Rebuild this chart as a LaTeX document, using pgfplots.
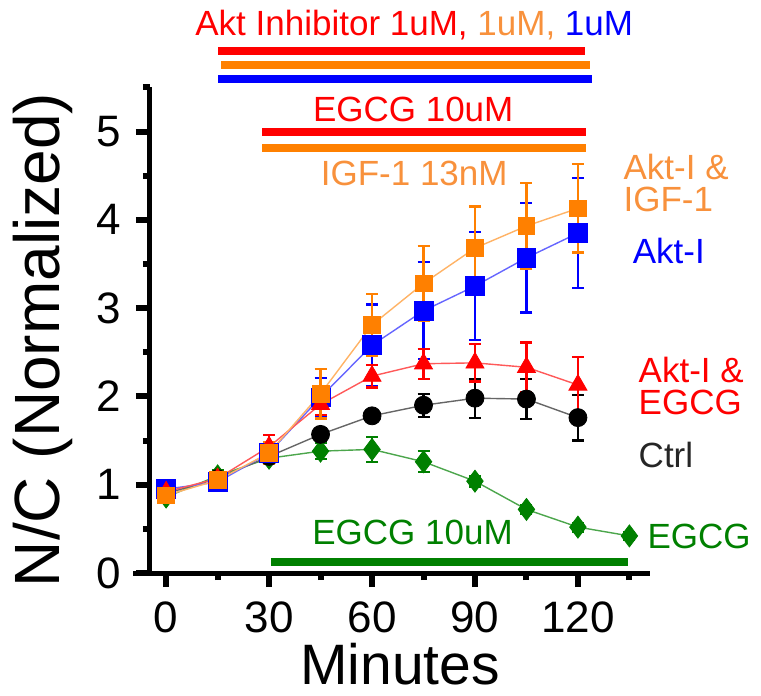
\documentclass[border=0pt]{standalone}
\usepackage{fontspec}
\setmainfont{Liberation Sans}
\usepackage{pgfplots}
\usepackage{pgfplotstable}
\pgfplotsset{compat=1.18}

\definecolor{cOrange}{RGB}{255,128,0}
\definecolor{tOrange}{RGB}{248,145,60}
\definecolor{cBlue}{RGB}{0,0,255}
\definecolor{cRed}{RGB}{255,0,0}
\definecolor{cGreen}{RGB}{0,128,0}

% minutes, N/C, error
\pgfplotstableread{
x y e
0 0.88 0.05
15 1.05 0.08
30 1.36 0.12
45 2.03 0.28
60 2.81 0.35
75 3.28 0.42
90 3.68 0.47
105 3.93 0.49
120 4.13 0.50
}\aktigf
\pgfplotstableread{
x y e
0 0.95 0.06
15 1.03 0.07
30 1.36 0.10
45 1.99 0.22
60 2.58 0.46
75 2.97 0.55
90 3.25 0.61
105 3.57 0.62
120 3.85 0.62
}\akt
\pgfplotstableread{
x y e
0 0.92 0.04
15 1.07 0.05
30 1.43 0.13
45 1.91 0.12
60 2.23 0.13
75 2.37 0.17
90 2.38 0.21
105 2.33 0.28
120 2.13 0.32
}\aktegcg
\pgfplotstableread{
x y e
0 0.90 0.03
15 1.07 0.04
30 1.32 0.06
45 1.57 0.07
60 1.78 0.07
75 1.90 0.13
90 1.98 0.22
105 1.97 0.23
120 1.76 0.26
}\ctrl
\pgfplotstableread{
x y e
0 0.86 0.04
15 1.10 0.06
30 1.30 0.06
45 1.38 0.09
60 1.40 0.14
75 1.26 0.12
90 1.04 0.06
105 0.72 0.05
120 0.52 0.05
135 0.42 0.04
}\egcg

\pgfplotsset{
  ser/.style n args={4}{
    color=#1, line width=0.7pt, mark=#3, mark size=#4,
    mark options={solid, fill=#2, draw=#2, line width=0.4pt},
    error bars/y dir=both, error bars/y explicit,
    error bars/error bar style={color=#2, line width=1.1pt},
    error bars/error mark options={rotate=90, mark size=3pt, line width=1.1pt, color=#2},
  },
}
\newcommand{\ann}{\fontsize{17.5}{16}\selectfont}

\begin{document}
\begin{tikzpicture}
\begin{axis}[
  scale only axis,
  width=250pt, height=242.8pt,
  xmin=-4.7, xmax=141, ymin=0, ymax=5.5,
  axis x line*=bottom, axis y line*=left,
  axis line style={line width=2.5pt},
  xtick={0,30,60,90,120}, minor xtick={15,45,75,105,135},
  ytick={0,1,2,3,4,5}, minor ytick={0.5,1.5,2.5,3.5,4.5,5.5},
  tick align=outside,
  major tick length=7pt, minor tick length=3.5pt,
  every tick/.style={black, line width=3pt},
  /pgf/number format/assume math mode=true,
  tick label style={font=\fontsize{22}{22}\selectfont},
  xticklabel style={yshift=-4pt},
  yticklabel style={xshift=-4pt},
  clip=false,
]
\coordinate (O) at (rel axis cs:0,0);
\draw[line width=2.5pt] (axis cs:-9.6,0) -- (axis cs:-4.7,0);

\addplot[ser={cGreen!70}{cGreen}{diamond*}{5.5pt}] table[x=x, y=y, y error=e] {\egcg};
\addplot[ser={black!60}{black}{*}{4.5pt}] table[x=x, y=y, y error=e] {\ctrl};
\addplot[ser={cBlue!60}{cBlue}{square*}{4.7pt}] table[x=x, y=y, y error=e] {\akt};
\addplot[ser={cRed!65}{cRed}{triangle*}{5.2pt}] table[x=x, y=y, y error=e] {\aktegcg};
\addplot[ser={cOrange!60}{cOrange}{square*}{4.2pt}] table[x=x, y=y, y error=e] {\aktigf};

% treatment bars
\draw[cRed, line width=4pt] (axis cs:15.2,5.91) -- (axis cs:122.2,5.91);
\draw[cOrange, line width=4pt] (axis cs:16,5.75) -- (axis cs:123.6,5.75);
\draw[cBlue, line width=4pt] (axis cs:15.2,5.59) -- (axis cs:124.2,5.59);
\draw[cRed, line width=4pt] (axis cs:28,4.99) -- (axis cs:122.4,4.99);
\draw[cOrange, line width=4pt] (axis cs:28,4.81) -- (axis cs:122.4,4.81);
\draw[cGreen, line width=4pt] (axis cs:30.6,0.12) -- (axis cs:134.7,0.12);

\node[anchor=base, inner sep=0pt, font=\ann] at (axis cs:72.3,6.09) {\color{cRed}Akt Inhibitor 1uM, \color{tOrange}1uM, \color{cBlue}1uM};
\node[anchor=base, inner sep=0pt, cRed, font=\ann] at (axis cs:72,5.11) {EGCG 10uM};
\node[anchor=base, inner sep=0pt, tOrange, font=\ann] at (axis cs:72.3,4.39) {IGF-1 13nM};
\node[anchor=base, inner sep=0pt, cGreen, font=\ann] at (axis cs:71.8,0.32) {EGCG 10uM};

\node[anchor=base west, inner sep=0pt, tOrange, align=left, font=\ann] at (axis cs:133.2,4.09) {Akt-I \&\\IGF-1};
\node[anchor=base west, inner sep=0pt, cBlue, font=\ann] at (axis cs:135.9,3.51) {Akt-I};
\node[anchor=base west, inner sep=0pt, cRed, align=left, font=\ann] at (axis cs:137.6,1.79) {Akt-I \&\\EGCG};
\node[anchor=base west, inner sep=0pt, black!85, font=\ann] at (axis cs:137.6,1.20) {Ctrl};
\node[anchor=base west, inner sep=0pt, cGreen, font=\ann] at (axis cs:140.2,0.28) {EGCG};

\node[anchor=base, inner sep=0pt] at ([yshift=-55.5pt]rel axis cs:0.5,0) {\fontsize{28.5}{28.5}\selectfont Minutes};
\node[anchor=base, inner sep=0pt, rotate=90] at ([xshift=-45pt]rel axis cs:0,0.48) {\fontsize{32}{32}\selectfont N/C (Normalized)};
\end{axis}
\pgfresetboundingbox
\path[use as bounding box] (O) ++(-75pt,-61.5pt) rectangle ++(380.5pt,348pt);
\end{tikzpicture}
\end{document}
